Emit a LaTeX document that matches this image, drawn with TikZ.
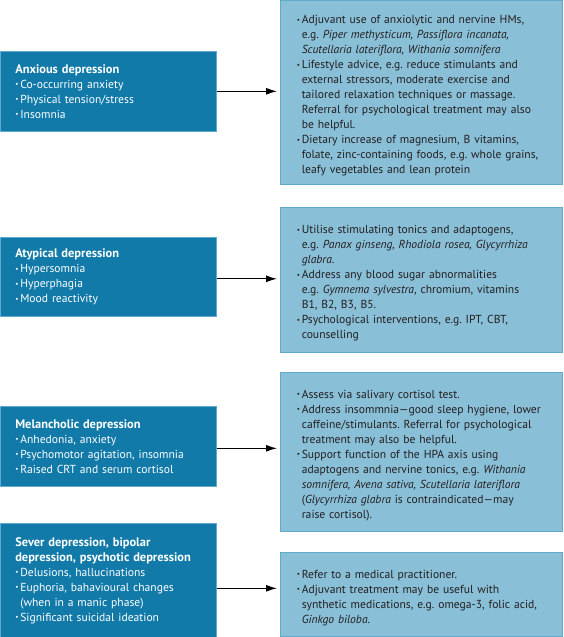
\documentclass[tikz,border=0pt]{standalone}
\usepackage{fontspec}
\setmainfont{PT Sans}
\usetikzlibrary{arrows.meta}
\definecolor{deepblue}{RGB}{17,122,168}
\definecolor{paleblue}{RGB}{137,191,215}
\definecolor{edgeblue}{RGB}{96,170,206}
\definecolor{inkgray}{RGB}{35,31,32}
\frenchspacing
\newcommand{\bul}{\makebox[5pt][l]{\raisebox{0.2ex}{\scriptsize\textbullet}}}
\newcommand{\itm}{\par\hangindent=5pt\hangafter=1\noindent\bul}
\newcommand{\head}[1]{{\fontsize{12.4}{15}\selectfont\bfseries #1}}

\begin{document}
\begin{tikzpicture}[x=1pt, y=-1pt, font=\fontsize{11.6}{15}\selectfont,
    symptom/.style={draw=edgeblue, line width=0.6pt, fill=deepblue, text=white,
      anchor=north west, inner xsep=15pt, inner ysep=0pt, text width=186pt,
      align=left, minimum height=#1},
    treatment/.style={draw=edgeblue, line width=0.6pt, fill=paleblue, text=inkgray,
      anchor=north west, inner xsep=16.5pt, inner ysep=0pt, text width=249pt,
      align=left, minimum height=#1},
    link/.style={-{Latex[length=11pt,width=7pt]}, line width=1.2pt, shorten >=3pt}]
  \useasboundingbox (0,0) rectangle (563,637);

  % symptom groups
  \node[symptom=80pt] (anx) at (0,51) {\head{Anxious depression}%
    \itm Co-occurring anxiety\itm Physical tension/stress\itm Insomnia\par};
  \node[symptom=79pt] (aty) at (0,237) {\head{Atypical depression}%
    \itm Hypersomnia\itm Hyperphagia\itm Mood reactivity\par};
  \node[symptom=80pt] (mel) at (0,406) {\head{Melancholic depression}%
    \itm Anhedonia, anxiety\itm Psychomotor agitation, insomnia%
    \itm Raised CRT and serum cortisol\par};
  \node[symptom=114pt] (sev) at (0,523) {\head{Sever depression, bipolar\newline
    depression, psychotic depression}%
    \itm Delusions, hallucinations%
    \itm Euphoria, bahavioural changes\newline (when in a manic phase)%
    \itm Significant suicidal ideation\par};

  % treatments
  \node[treatment=184pt] (anxT) at (280,0) {%
    \itm Adjuvant use of anxiolytic and nervine HMs,\newline
    e.g. \textit{Piper methysticum, Passiflora incanata,}\newline
    \textit{Scutellaria lateriflora, Withania somnifera}%
    \itm Lifestyle advice, e.g. reduce stimulants and\newline
    external stressors, moderate exercise and\newline
    tailored relaxation techniques or massage.\newline
    Referral for psychological treatment may also\newline
    be helpful.%
    \itm Dietary increase of magnesium, B vitamins,\newline
    folate, zinc-containing foods, e.g. whole grains,\newline
    leafy vegetables and lean protein\par};
  \node[treatment=145pt] (atyT) at (280,207) {%
    \itm Utilise stimulating tonics and adaptogens,\newline
    e.g. \textit{Panax ginseng, Rhodiola rosea, Glycyrrhiza}\newline
    \textit{glabra}.%
    \itm Address any blood sugar abnormalities\newline
    e.g. \textit{Gymnema sylvestra}, chromium, vitamins\newline
    B1, B2, B3, B5.%
    \itm Psychological interventions, e.g. IPT, CBT,\newline
    counselling\par};
  \node[treatment=159pt] (melT) at (280,372) {%
    \itm Assess via salivary cortisol test.%
    \itm Address insommnia---good sleep hygiene, lower\newline
    caffeine/stimulants. Referral for psychological\newline
    treatment may also be helpful.%
    \itm Support function of the HPA axis using\newline
    adaptogens and nervine tonics, e.g. \textit{Withania}\newline
    \textit{somnifera, Avena sativa, Scutellaria lateriflora}\newline
    (\textit{Glycyrrhiza glabra} is contraindicated---may\newline
    raise cortisol).\par};
  \node[treatment=84pt] (sevT) at (280,552) {%
    \itm Refer to a medical practitioner.%
    \itm Adjuvant treatment may be useful with\newline
    synthetic medications, e.g. omega-3, folic acid,\newline
    \textit{Ginkgo biloba}.\par};

  % arrows
  \draw[link] (anx.east) -- (anx.east -| anxT.west);
  \draw[link] ([yshift=-2pt]aty.east) -- ([yshift=-2pt]aty.east -| atyT.west);
  \draw[link] ([yshift=-2pt]mel.east) -- ([yshift=-2pt]mel.east -| melT.west);
  \draw[link] ([yshift=-8pt]sev.east) -- ([yshift=-8pt]sev.east -| sevT.west);
\end{tikzpicture}
\end{document}
